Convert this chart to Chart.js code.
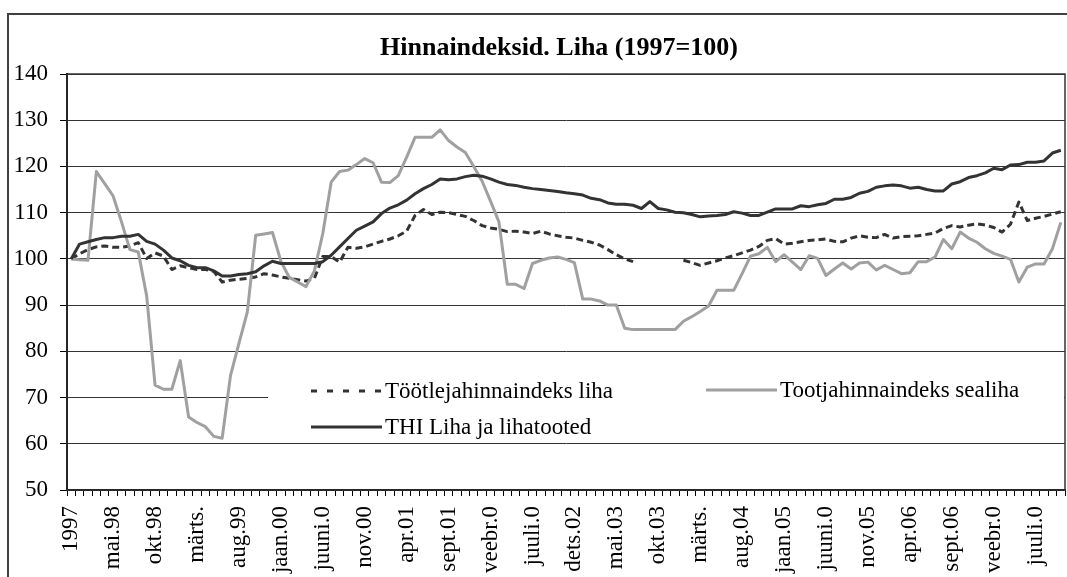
<!DOCTYPE html>
<html>
<head>
<meta charset="utf-8">
<script src="https://cdn.jsdelivr.net/npm/chart.js@4.4.1/dist/chart.umd.min.js"></script>
<style>
  html, body { margin: 0; padding: 0; background: #fff; overflow: hidden; }
  canvas { display: block; }
</style>
</head>
<body>
<canvas id="lihaChart" width="1067" height="577"></canvas>
<script>
// Andmed (1997=100), kuised indeksid jaan.98 - okt.07
const months = ['jaan.', 'veebr.', 'märts.', 'apr.', 'mai.', 'juuni.', 'juuli.', 'aug.', 'sept.', 'okt.', 'nov.', 'dets.'];
const years = ['98', '99', '00', '01', '02', '03', '04', '05', '06', '07'];

// Töötlejahinnaindeks liha (null = andmed puuduvad)
const tootleja = [
  100.0, 101.1, 102.0, 102.6, 102.8, 102.5, 102.5, 102.8, 103.5, 100.1,
  101.3, 100.6, 97.7, 98.5, 98.1, 97.7, 97.7, 97.3, 95.0, 95.4,
  95.6, 95.8, 96.1, 96.8, 96.5, 96.1, 95.8, 95.5, 95.2, 95.8,
  100.5, 100.5, 99.3, 102.5, 102.3, 102.6, 103.2, 103.8, 104.3, 105.0,
  106.0, 109.4, 110.7, 109.6, 110.1, 110.0, 109.6, 109.2, 108.3, 107.2,
  106.7, 106.4, 105.9, 106.0, 105.8, 105.5, 106.0, 105.4, 105.0, 104.7,
  104.5, 104.0, 103.6, 103.0, 102.0, 100.9, 100.0, 99.4, null, null,
  null, null, null, 99.7, 99.2, 98.6, 99.1, 99.6, 100.2, 100.7,
  101.3, 101.9, 102.7, 104.0, 104.4, 103.2, 103.4, 103.7, 104.0, 104.1,
  104.3, 103.8, 103.7, 104.5, 105.0, 104.7, 104.6, 105.3, 104.5, 104.8,
  104.9, 105.0, 105.3, 105.6, 106.6, 107.2, 106.9, 107.3, 107.6, 107.3,
  106.8, 105.8, 107.5, 112.3, 108.3, 108.8, 109.2, 109.7, 110.2
];

// Tootjahinnaindeks sealiha
const tootja = [
  100.0, 99.8, 99.7, 118.9, 116.3, 113.6, 108.0, 102.0, 101.5, 92.0,
  72.7, 71.8, 71.8, 78.0, 65.8, 64.6, 63.7, 61.6, 61.2, 74.8,
  81.7, 88.5, 105.1, 105.4, 105.7, 99.5, 96.0, 95.0, 94.0, 97.4,
  105.5, 116.6, 118.9, 119.2, 120.4, 121.7, 120.8, 116.6, 116.5, 118.0,
  122.0, 126.3, 126.3, 126.3, 127.9, 125.6, 124.2, 123.0, 120.0, 116.8,
  112.5, 108.0, 94.5, 94.5, 93.6, 99.0, 99.7, 100.2, 100.4, 99.9,
  99.2, 91.3, 91.3, 90.9, 90.0, 90.0, 85.0, 84.7, 84.7, 84.7,
  84.7, 84.7, 84.7, 86.5, 87.5, 88.6, 89.8, 93.2, 93.2, 93.2,
  96.8, 100.6, 101.1, 102.5, 99.4, 100.9, 99.3, 97.7, 100.7, 100.1,
  96.4, 97.8, 99.1, 97.8, 99.1, 99.3, 97.6, 98.6, 97.7, 96.8,
  97.0, 99.4, 99.4, 100.4, 104.2, 102.2, 105.8, 104.5, 103.6, 102.2,
  101.2, 100.6, 99.9, 95.0, 98.2, 98.9, 98.9, 102.2, 107.9
];

// THI Liha ja lihatooted
const thi = [
  100.0, 103.2, 103.7, 104.2, 104.6, 104.6, 104.9, 104.9, 105.3, 103.8,
  103.2, 101.9, 100.2, 99.6, 98.6, 98.1, 98.1, 97.4, 96.3, 96.3,
  96.6, 96.8, 97.2, 98.5, 99.5, 99.0, 99.0, 99.0, 99.0, 99.0,
  99.4, 100.8, 102.6, 104.4, 106.2, 107.1, 108.0, 109.8, 111.0, 111.7,
  112.7, 114.1, 115.2, 116.1, 117.3, 117.1, 117.3, 117.8, 118.1, 117.9,
  117.3, 116.6, 116.1, 115.9, 115.5, 115.2, 115.0, 114.8, 114.6, 114.3,
  114.1, 113.8, 113.1, 112.8, 112.1, 111.8, 111.8, 111.6, 110.9, 112.4,
  110.9, 110.6, 110.1, 110.0, 109.6, 109.1, 109.3, 109.4, 109.6, 110.2,
  109.9, 109.4, 109.4, 110.1, 110.8, 110.8, 110.8, 111.5, 111.3, 111.7,
  112.0, 112.9, 112.9, 113.3, 114.2, 114.6, 115.5, 115.8, 116.0, 115.8,
  115.3, 115.5, 115.0, 114.7, 114.7, 116.2, 116.7, 117.6, 118.0, 118.6,
  119.6, 119.3, 120.3, 120.4, 120.9, 120.9, 121.2, 122.9, 123.5
];

// Teljel näidatud sildid (iga 5. kuu)
const tickLabels = [
  '1997', 'mai.98', 'okt.98', 'märts.', 'aug.99', 'jaan.00', 'juuni.0', 'nov.00',
  'apr.01', 'sept.01', 'veebr.0', 'juuli.0', 'dets.02', 'mai.03', 'okt.03', 'märts.',
  'aug.04', 'jaan.05', 'juuni.0', 'nov.05', 'apr.06', 'sept.06', 'veebr.0', 'juuli.0'
];

const categories = ['1997'];
years.forEach(function (y) {
  months.forEach(function (m) {
    if (categories.length < thi.length) categories.push(m + y);
  });
});

const serif = "'Liberation Serif', 'Times New Roman', serif";

// Raam ja pealkiri
const frameTitle = {
  id: 'frameTitle',
  beforeDraw(chart) {
    const ctx = chart.ctx;
    ctx.save();
    ctx.fillStyle = '#fff';
    ctx.fillRect(0, 0, chart.width, chart.height);
    ctx.strokeStyle = '#404040';
    ctx.lineWidth = 2;
    ctx.strokeRect(8, 14, chart.width + 100, chart.height + 100);
    ctx.restore();
  },
  beforeDatasetsDraw(chart) {
    const a = chart.chartArea;
    const ctx = chart.ctx;
    ctx.save();
    ctx.strokeStyle = '#333';
    ctx.lineWidth = 1.5;
    ctx.strokeRect(a.left, a.top, a.right - a.left, a.bottom - a.top);
    ctx.restore();
  },
  afterDraw(chart) {
    const ctx = chart.ctx;
    ctx.save();
    ctx.fillStyle = '#000';
    ctx.font = 'bold 26px ' + serif;
    ctx.textAlign = 'center';
    ctx.textBaseline = 'middle';
    ctx.fillText('Hinnaindeksid. Liha (1997=100)', 559, 48);
    ctx.restore();
  }
};

// Legend joonise sees, valge taustaga
const legendBox = {
  id: 'legendBox',
  afterDraw(chart) {
    const ctx = chart.ctx;
    const items = [
      { ds: 0, x: 311, y: 391, dash: [6, 10] },
      { ds: 1, x: 706, y: 390, dash: [] },
      { ds: 2, x: 311, y: 427, dash: [] }
    ];
    ctx.save();
    ctx.fillStyle = '#fff';
    ctx.fillRect(268, 366, 796, 76);
    ctx.font = '23px ' + serif;
    ctx.textBaseline = 'middle';
    items.forEach(function (it) {
      const ds = chart.data.datasets[it.ds];
      ctx.beginPath();
      ctx.strokeStyle = ds.borderColor;
      ctx.lineWidth = ds.borderWidth;
      ctx.setLineDash(it.dash);
      ctx.moveTo(it.x, it.y);
      ctx.lineTo(it.x + 71, it.y);
      ctx.stroke();
      ctx.setLineDash([]);
      ctx.fillStyle = '#000';
      ctx.fillText(ds.label, it.x + 74, it.y + 1);
    });
    ctx.restore();
  }
};

const ctx = document.getElementById('lihaChart').getContext('2d');
new Chart(ctx, {
  type: 'line',
  data: {
    labels: categories,
    datasets: [{
      label: 'Töötlejahinnaindeks liha',
      data: tootleja,
      borderColor: '#333333',
      borderWidth: 3,
      borderDash: [7, 4],
      order: 2
    }, {
      label: 'Tootjahinnaindeks sealiha',
      data: tootja,
      borderColor: '#a0a0a0',
      borderWidth: 3,
      order: 1
    }, {
      label: 'THI Liha ja lihatooted',
      data: thi,
      borderColor: '#333333',
      borderWidth: 3,
      order: 0
    }]
  },
  options: {
    responsive: false,
    animation: false,
    elements: {
      point: { radius: 0 },
      line: { tension: 0, borderJoinStyle: 'round', fill: false }
    },
    layout: { padding: { left: 7, right: 2, top: 74, bottom: 0 } },
    scales: {
      x: {
        offset: true,
        afterFit: function (scale) {
          scale.height = 87;
          scale.paddingLeft = 0;
          scale.paddingRight = 0;
        },
        grid: {
          display: true,
          drawOnChartArea: false,
          offset: true,
          tickLength: 6,
          color: '#000'
        },
        border: { color: '#000', width: 1.5 },
        ticks: {
          autoSkip: false,
          minRotation: 90,
          maxRotation: 90,
          padding: 10,
          color: '#000',
          font: { family: serif, size: 23 },
          callback: function (v, i) { return i % 5 === 0 ? tickLabels[i / 5] : ''; }
        }
      },
      y: {
        min: 50,
        max: 140,
        afterFit: function (scale) { scale.width = 60; },
        grid: { color: '#333', tickLength: 7, tickColor: '#000' },
        border: { color: '#000', width: 2 },
        ticks: {
          stepSize: 10,
          padding: 12,
          color: '#000',
          font: { family: serif, size: 23 }
        }
      }
    },
    plugins: {
      legend: { display: false },
      title: { display: false },
      tooltip: { enabled: false }
    }
  },
  plugins: [frameTitle, legendBox]
});
</script>
</body>
</html>
